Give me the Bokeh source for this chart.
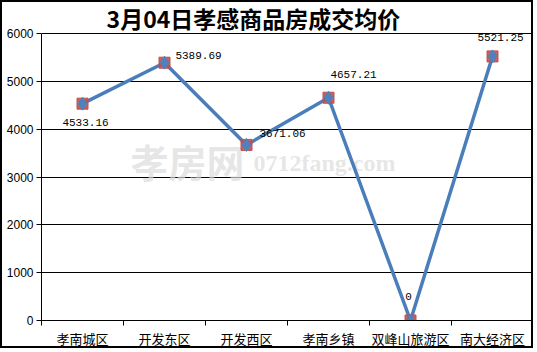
from bokeh.plotting import figure
from bokeh.models import FixedTicker, Range1d, ColumnDataSource
from bokeh.core.properties import value
from bokeh.embed import file_html
from bokeh.resources import INLINE

title_text = "3月04日孝感商品房成交均价"
categories = ["孝南城区", "开发东区", "开发西区", "孝南乡镇", "双峰山旅游区", "南大经济区"]
prices = [4533.16, 5389.69, 3671.06, 4657.21, 0, 5521.25]
price_labels = ["4533.16", "5389.69", "3671.06", "4657.21", "0", "5521.25"]
y_ticks = [0, 1000, 2000, 3000, 4000, 5000, 6000]
y_max = 6000

# label placement (screen pixel offsets from each point)
label_dx = [3, 34, 36, 25, -2, 8]
label_dy = [19, -7, -11, -23, -24, -19]

xs = [i + 0.5 for i in range(len(categories))]
src = ColumnDataSource(dict(x=xs, y=prices, lab=price_labels, dx=label_dx, dy=label_dy))

# frame spans canvas rows 0..318; value axis 0..6000 occupies the lower 287 px,
# leaving the top 31 px of the frame as the title area
frame_h = 318
axis_px = 287
y_top = y_max * frame_h / axis_px

p = figure(width=533, height=348, output_backend="svg", toolbar_location=None,
           x_range=Range1d(0, len(categories)), y_range=Range1d(0, y_top),
           min_border_left=39, min_border_right=2, min_border_top=0, min_border_bottom=30)
p.styles = {"border": "2px solid black"}
p.outline_line_color = None
p.background_fill_color = "white"
p.border_fill_color = "white"

# grid
p.xgrid.visible = False
p.ygrid.ticker = FixedTicker(ticks=y_ticks)
p.ygrid.grid_line_color = "black"
p.ygrid.grid_line_width = 1

# y axis
p.yaxis.ticker = FixedTicker(ticks=y_ticks)
p.yaxis.bounds = (0, y_max)
p.yaxis.axis_line_color = "black"
p.yaxis.major_tick_line_color = "black"
p.yaxis.major_tick_out = 5
p.yaxis.major_tick_in = 0
p.yaxis.minor_tick_line_color = None
p.yaxis.major_label_standoff = 3
p.yaxis.major_label_text_font = "Liberation Sans"
p.yaxis.major_label_text_font_size = "12px"
p.yaxis.major_label_text_color = "black"

# x axis: labels at centres, ticks at boundaries (minor)
p.xaxis.ticker = FixedTicker(ticks=xs, minor_ticks=list(range(len(categories) + 1)))
p.xaxis.major_label_overrides = {x: c for x, c in zip(xs, categories)}
p.xaxis.major_tick_line_color = None
p.xaxis.major_tick_out = 0
p.xaxis.major_tick_in = 0
p.xaxis.minor_tick_line_color = "black"
p.xaxis.minor_tick_out = 5
p.xaxis.minor_tick_in = 0
p.xaxis.axis_line_color = "black"
p.xaxis.major_label_standoff = 3
p.xaxis.major_label_text_font = "Noto Sans CJK SC"
p.xaxis.major_label_text_font_size = "13px"
p.xaxis.major_label_text_color = "black"

# watermark
p.text(x=[1.085], y=[3345], text=["孝房网"], text_font=value("Noto Sans CJK SC"),
       text_font_style="bold", text_font_size="38px", text_color="#dcdcdc",
       text_alpha=0.7, text_baseline="middle", text_align="left")
p.text(x=[2.585], y=[3300], text=["0712fang.com"], text_font=value("Liberation Serif"),
       text_font_style="bold", text_font_size="24px", text_color="#dcdcdc",
       text_alpha=0.7, text_baseline="middle", text_align="left")

# series
p.line("x", "y", source=src, line_color="#4A7EBB", line_width=3.5)
p.scatter("x", "y", source=src, marker="square", size=11, fill_color="#C0504D",
          line_color="#C0504D", fill_alpha=0.9)
p.scatter("x", "y", source=src, marker="diamond", size=13, fill_color="#4F81BD",
          line_color="#4F81BD")

p.text("x", "y", text="lab", source=src, x_offset="dx", y_offset="dy",
       text_font=value("Liberation Mono"), text_font_size="11px", text_color="black",
       text_align="center", text_baseline="middle")

# title (drawn in the top strip of the frame, above the 6000 line)
p.text(x=[2.585], y=[y_max], y_offset=-16, text=[title_text],
       text_font=value("Noto Sans CJK SC"), text_font_style="bold",
       text_font_size="23px", text_color="black",
       text_align="center", text_baseline="middle")

open("out.html", "w").write(file_html(p, INLINE))
